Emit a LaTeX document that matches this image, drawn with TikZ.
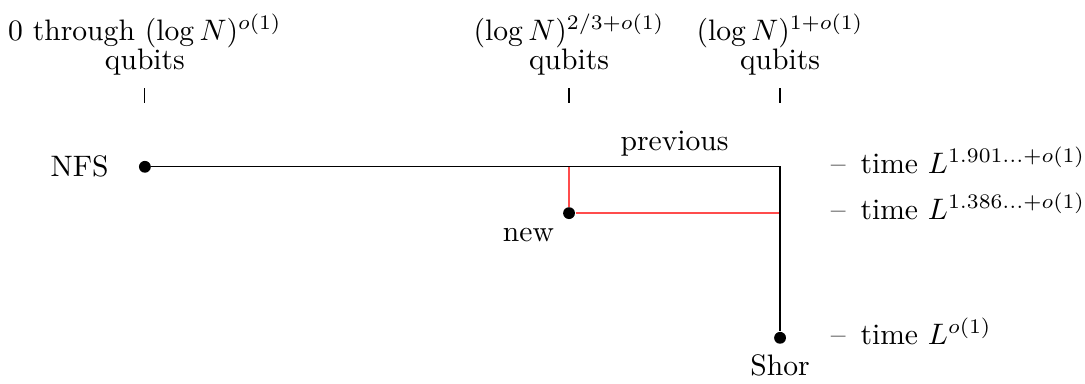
\documentclass[tikz,border=0pt]{standalone}
\usepackage{amsmath,amssymb}
\usepackage{xcolor}
\usetikzlibrary{positioning,calc}

\begin{document}
\begin{tikzpicture}[
    dot/.style={circle, fill, inner sep=0pt, minimum size=4pt},
    qlabel/.style={align=center, anchor=south},
    tlabel/.style={anchor=mid west}
]
    \useasboundingbox (-1.72,-2.57) rectangle (11.16,1.98);

    % Points
    \node[dot, label={[label distance=6.5pt]left:NFS}] (nfs) at (0,0) {};
    \node[dot, label=below left:new] (new) at (5.035,-0.55) {};
    \node[dot, label=below:Shor] (shor) at (7.54,-2.03) {};

    % Corners
    \coordinate (split) at (new |- nfs);
    \coordinate (corner) at (shor |- nfs);
    \coordinate (join) at (shor |- new);
    \coordinate (stop) at (shor);

    % New path
    \draw[red!70, line width=0.6pt] (split) -- (new) -- (join);

    % Previous path
    \draw (nfs) -- (split) -- node[above] {previous} (corner) -- (shor);

    % Qubit ticks
    \foreach \col/\amount in {nfs/{0 through $(\log N)^{o(1)}$},
                              new/{$(\log N)^{2/3+o(1)}$},
                              shor/{$(\log N)^{1+o(1)}$}} {
        \draw ($(\col |- nfs)+(0,0.76)$) coordinate (\col-bot) -- ++(0,0.18) coordinate (\col-top);
        \node[above=0.02cm of \col-top, qlabel] (\col-q) {\amount\\[-2pt]qubits};
    }

    % Running times
    \node[right=0.48cm of corner, tlabel] (t-nfs) {--\enspace time $L^{1.901\ldots+o(1)}$};
    \node[right=0.48cm of join, tlabel] (t-new) {--\enspace time $L^{1.386\ldots+o(1)}$};
    \node[right=0.48cm of stop, tlabel] (t-shor) {--\enspace time $L^{o(1)}$};
\end{tikzpicture}
\end{document}
